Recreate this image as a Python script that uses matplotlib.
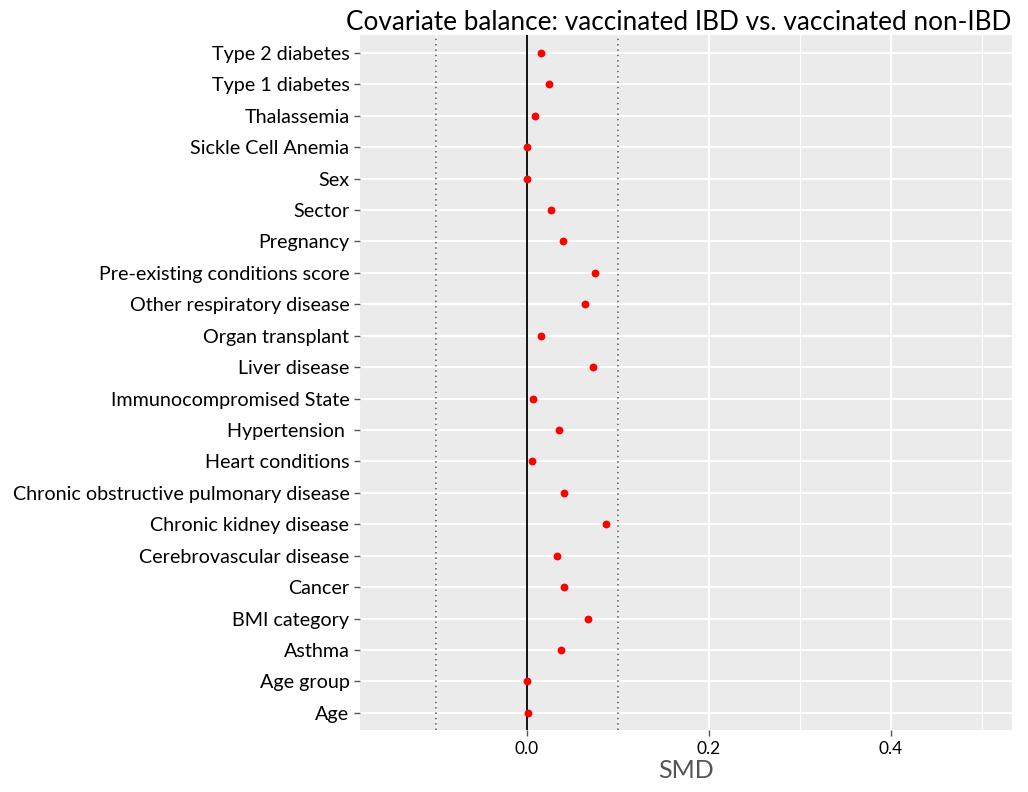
import matplotlib.pyplot as plt
import numpy as np

# covariates from bottom to top, as they appear on the y axis
covariates = ["Age", "Age group", "Asthma", "BMI category", "Cancer",
              "Cerebrovascular disease", "Chronic kidney disease",
              "Chronic obstructive pulmonary disease", "Heart conditions",
              "Hypertension ", "Immunocompromised State", "Liver disease",
              "Organ transplant", "Other respiratory disease",
              "Pre-existing conditions score", "Pregnancy", "Sector", "Sex",
              "Sickle Cell Anemia", "Thalassemia", "Type 1 diabetes",
              "Type 2 diabetes"]
smd = [0.001, 0.0, 0.038, 0.067, 0.041, 0.033, 0.087, 0.041, 0.006, 0.036,
       0.007, 0.073, 0.016, 0.064, 0.075, 0.040, 0.027, 0.0, 0.0, 0.009,
       0.024, 0.016]
x_ticks = [0.0, 0.2, 0.4]
x_minor = [-0.1, 0.1, 0.3, 0.5]

plt.rcParams['font.family'] = ['Lato', 'DejaVu Sans']

fig = plt.figure(figsize=(10.28, 7.92), dpi=100)
ax = fig.add_axes([0.350, 0.078, 0.634, 0.878])
ax.set_facecolor("#ebebeb")
for s in ax.spines.values():
    s.set_visible(False)

y = np.arange(len(covariates))
ax.set_xlim(-0.1835, 0.533)
ax.set_ylim(-0.55, len(covariates) - 1 + 0.57)

# ggplot-like grid
for v in x_minor:
    ax.axvline(v, color="white", lw=0.8, zorder=0)
for v in x_ticks:
    ax.axvline(v, color="white", lw=1.5, zorder=0)
for v in y:
    ax.axhline(v, color="white", lw=1.5, zorder=0)

ax.axvline(-0.1, color="#555555", lw=1.1, ls=(0, (1, 2.5)), zorder=1)
ax.axvline(0.1, color="#555555", lw=1.1, ls=(0, (1, 2.5)), zorder=1)
ax.axvline(0.0, color="black", lw=1.3, zorder=2)

ax.scatter(smd, y, s=32, color="#ff0000", zorder=3, linewidths=0)

ax.set_yticks(y)
ax.set_yticklabels(covariates, fontsize=14.2)
ax.set_xticks(x_ticks)
ax.set_xticklabels(["0.0", "0.2", "0.4"], fontsize=12.5)
ax.tick_params(axis="both", color="#555555", length=4, width=1)
ax.set_xlabel("SMD", fontsize=18, color="#555555", labelpad=2)
ax.set_title("Covariate balance: vaccinated IBD vs. vaccinated non-IBD",
             fontsize=18.8, loc="right", pad=3)

plt.savefig("out.png", dpi=100)
